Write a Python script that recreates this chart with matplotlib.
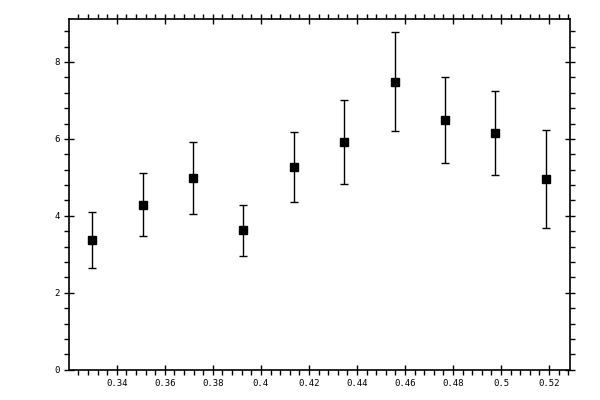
import numpy as np
import matplotlib
matplotlib.use('Agg')
import matplotlib.pyplot as plt
from matplotlib.ticker import MultipleLocator, FuncFormatter

# values
x_vals = [0.3296, 0.3508, 0.3717, 0.3925, 0.4138, 0.4346, 0.4560, 0.4767, 0.4975, 0.5188]
y_vals = [3.38, 4.28, 4.98, 3.64, 5.27, 5.92, 7.47, 6.49, 6.15, 4.96]
y_top = [4.10, 5.11, 5.92, 4.28, 6.18, 7.00, 8.77, 7.62, 7.24, 6.23]
y_bot = [2.65, 3.48, 4.05, 2.96, 4.37, 4.83, 6.20, 5.37, 5.06, 3.69]


def fmt(v, pos):
    s = f"{v:.2f}".rstrip('0').rstrip('.')
    return s


def main():
    plt.rcParams['font.family'] = 'DejaVu Sans Mono'
    fig = plt.figure(figsize=(6, 4), dpi=100)
    ax = fig.add_axes([69 / 600, 1 - 369.7 / 400, (570 - 69) / 600, (369.7 - 19.3) / 400])

    y = np.array(y_vals)
    err = [y - np.array(y_bot), np.array(y_top) - y]
    ax.errorbar(x_vals, y_vals, yerr=err, fmt='s', color='black', ms=5.8,
                elinewidth=1.0, capsize=3, capthick=1.0)

    ax.set_xlim(0.3201, 0.5287)
    ax.set_ylim(0, 9.11)

    ax.xaxis.set_major_locator(MultipleLocator(0.02))
    ax.xaxis.set_minor_locator(MultipleLocator(0.004))
    ax.yaxis.set_major_locator(MultipleLocator(2))
    ax.yaxis.set_minor_locator(MultipleLocator(0.4))
    ax.xaxis.set_major_formatter(FuncFormatter(fmt))
    ax.yaxis.set_major_formatter(FuncFormatter(fmt))

    ax.tick_params(which='major', direction='inout', length=7, width=1,
                   top=True, right=True, labelsize=6.5, pad=3)
    ax.tick_params(which='minor', direction='out', length=3.5, width=1,
                   top=True, right=True)
    for s in ax.spines.values():
        s.set_linewidth(1.2)

    fig.savefig('out.png', dpi=100)


if __name__ == '__main__':
    main()
